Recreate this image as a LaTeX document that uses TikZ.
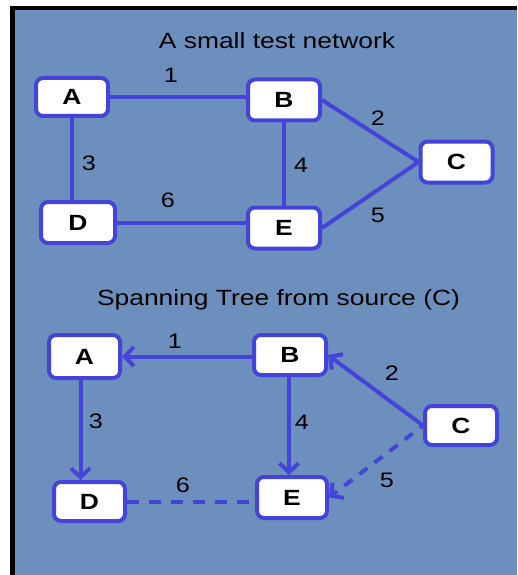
\documentclass[tikz,border=0pt]{standalone}
\usepackage{fontspec}
\setmainfont{Liberation Sans}[FakeStretch=1.2]
\usetikzlibrary{arrows.meta}
\definecolor{panel}{RGB}{109,143,189}
\definecolor{edgeblue}{RGB}{68,68,216}
\tikzset{
  vertex/.style={draw=edgeblue, line width=4pt, fill=white, rounded corners=7pt,
    minimum width=72pt, minimum height=40pt, inner sep=0pt,
    font=\fontsize{22}{24}\selectfont\bfseries},
  link/.style={draw=edgeblue, line width=4pt},
  treelink/.style={link, -{Straight Barb[length=9pt,width=19pt]}},
  unused/.style={link, dash pattern=on 12pt off 10pt},
  weight/.style={inner sep=0pt, font=\fontsize{21}{23}\selectfont},
  heading/.style={inner sep=0pt, anchor=base, font=\fontsize{22}{24}\selectfont}
}
\begin{document}
\begin{tikzpicture}[x=1pt,y=-1pt]
  \useasboundingbox (0,0) rectangle (517,575);
  % frame and panel
  \fill[white] (0,0) rectangle (517,575);
  \fill[black] (10,6) rectangle (517,575);
  \fill[panel] (14.5,10.5) rectangle (517,575);

  % ---- the network ----
  \node[heading] (t1) at (277,49) {A small test network};
  \node[vertex, minimum height=38pt] (A) at (72,97) {A};
  \node[vertex, minimum height=41pt] (B) at (284,100) {B};
  \node[vertex, minimum height=41pt] (C) at (456.5,162) {C};
  \node[vertex, minimum width=74pt, minimum height=41pt] (D) at (78,222.5) {D};
  \node[vertex, minimum height=41pt] (E) at (284,228) {E};

  \draw[link] (A.east) -- (A.east -| B.west);
  \draw[link] (A.south) -- (A.south |- D.north);
  \draw[link] (D.east) -- (D.east -| E.west);
  \draw[link] (B.south) -- (B.south |- E.north);
  \draw[link] (B.east) -- (C.west);
  \draw[link] (E.east) -- (C.west);

  \node[weight] (w1) at (171,75) {1};
  \node[weight] (w3) at (89,163) {3};
  \node[weight] (w6) at (168,200) {6};
  \node[weight] (w4) at (301,165) {4};
  \node[weight] (w2) at (378,118) {2};
  \node[weight] (w5) at (378,215) {5};

  % ---- the spanning tree ----
  \node[heading] (t2) at (278.5,305) {Spanning Tree from source (C)};
  \node[vertex, minimum width=71pt, minimum height=43pt] (A2) at (84.5,356.5) {A};
  \node[vertex, minimum width=72pt, minimum height=40pt] (B2) at (290,355) {B};
  \node[vertex, minimum width=72pt, minimum height=39pt] (C2) at (461,425.5) {C};
  \node[vertex, minimum width=71pt, minimum height=39pt] (D2) at (89.5,501.5) {D};
  \node[vertex, minimum width=70pt, minimum height=41pt] (E2) at (292,497.5) {E};

  \draw[treelink] (B2.west |- A2.east) -- (A2.east);
  \draw[treelink] ([xshift=-4pt]A2.south) -- ([xshift=-4pt]A2.south |- D2.north);
  \draw[treelink] ([xshift=-1pt]B2.south) -- ([xshift=-1pt]B2.south |- E2.north);
  \draw[treelink] (C2.west) -- (B2.east);
  \draw[unused] (D2.east) -- (D2.east -| E2.west);
  \draw[unused, -{Straight Barb[length=9pt,width=19pt]}, dash pattern=on 10pt off 9pt, dash phase=6pt]
    (C2.west) -- (E2.east);

  \node[weight] (v1) at (175,341) {1};
  \node[weight] (v3) at (96,421) {3};
  \node[weight] (v6) at (183,485) {6};
  \node[weight] (v4) at (302,422) {4};
  \node[weight] (v2) at (392,373) {2};
  \node[weight] (v5) at (387,480) {5};
\end{tikzpicture}
\end{document}
